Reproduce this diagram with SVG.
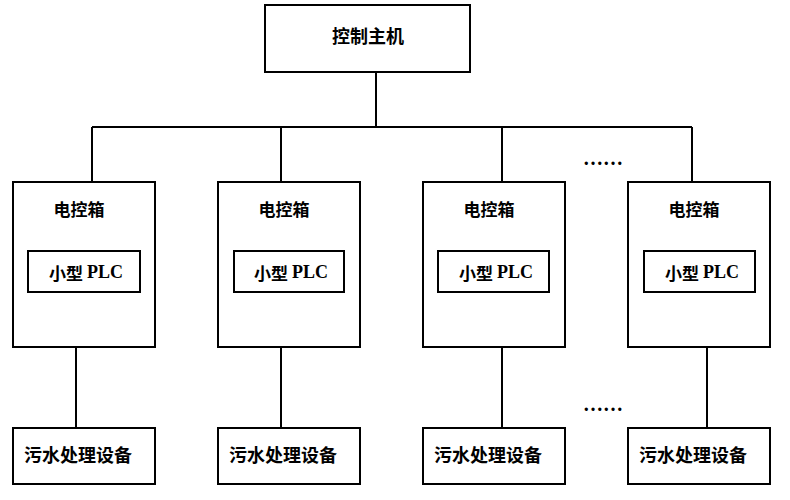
<svg xmlns="http://www.w3.org/2000/svg" width="790" height="500" viewBox="0 0 790 500">
<style>
.box{fill:#fff;stroke:#000;stroke-width:2}
.ln{fill:none;stroke:#000;stroke-width:2}
.t{font-family:"Noto Sans CJK SC","Liberation Serif",sans-serif;font-size:17px;font-weight:bold;fill:#000;text-anchor:middle;dominant-baseline:central}
.p{font-family:"Liberation Serif","DejaVu Serif",serif;font-size:18px}
.d{font-family:"Liberation Serif",serif;font-size:20px}
</style>
<rect width="790" height="500" fill="#fff"/>
<g id="connectors">
<path class="ln" d="M376 72V127M92 127H692M92 127V182M281 127V182M502 127V182M692 127V182"/>
<path class="ln" d="M76 347V428M281 347V428M502 347V428M707 347V428"/>
</g>
<g id="host"><rect class="box" x="265" y="5" width="205" height="67"/><text class="t" x="368" y="35" style="font-size:18px">控制主机</text></g>
<g id="cab1"><rect class="box" x="13" y="182" width="142" height="165"/><text class="t" x="79" y="208">电控箱</text>
<g id="plc1"><rect class="box" x="28" y="251" width="112" height="41"/><text class="t" x="86" y="272">小型 <tspan class="p">PLC</tspan></text></g></g>
<g id="cab2"><rect class="box" x="218" y="182" width="142" height="165"/><text class="t" x="284" y="208">电控箱</text>
<g id="plc2"><rect class="box" x="234" y="251" width="110" height="41"/><text class="t" x="291" y="272">小型 <tspan class="p">PLC</tspan></text></g></g>
<g id="cab3"><rect class="box" x="423" y="182" width="142" height="165"/><text class="t" x="489" y="208">电控箱</text>
<g id="plc3"><rect class="box" x="438" y="251" width="111" height="41"/><text class="t" x="496" y="272">小型 <tspan class="p">PLC</tspan></text></g></g>
<g id="cab4"><rect class="box" x="628" y="182" width="142" height="165"/><text class="t" x="694" y="208">电控箱</text>
<g id="plc4"><rect class="box" x="644" y="251" width="111" height="41"/><text class="t" x="702" y="272">小型 <tspan class="p">PLC</tspan></text></g></g>
<g id="dev1"><rect class="box" x="13" y="428" width="142" height="56"/><text class="t" x="78" y="454" style="font-size:18px">污水处理设备</text></g>
<g id="dev2"><rect class="box" x="218" y="428" width="142" height="56"/><text class="t" x="283" y="454" style="font-size:18px">污水处理设备</text></g>
<g id="dev3"><rect class="box" x="423" y="428" width="142" height="56"/><text class="t" x="488" y="454" style="font-size:18px">污水处理设备</text></g>
<g id="dev4"><rect class="box" x="628" y="428" width="142" height="56"/><text class="t" x="693" y="454" style="font-size:18px">污水处理设备</text></g>
<g id="more1"><text class="t d" x="603" y="158">……</text></g>
<g id="more2"><text class="t d" x="603" y="404">……</text></g>
</svg>
